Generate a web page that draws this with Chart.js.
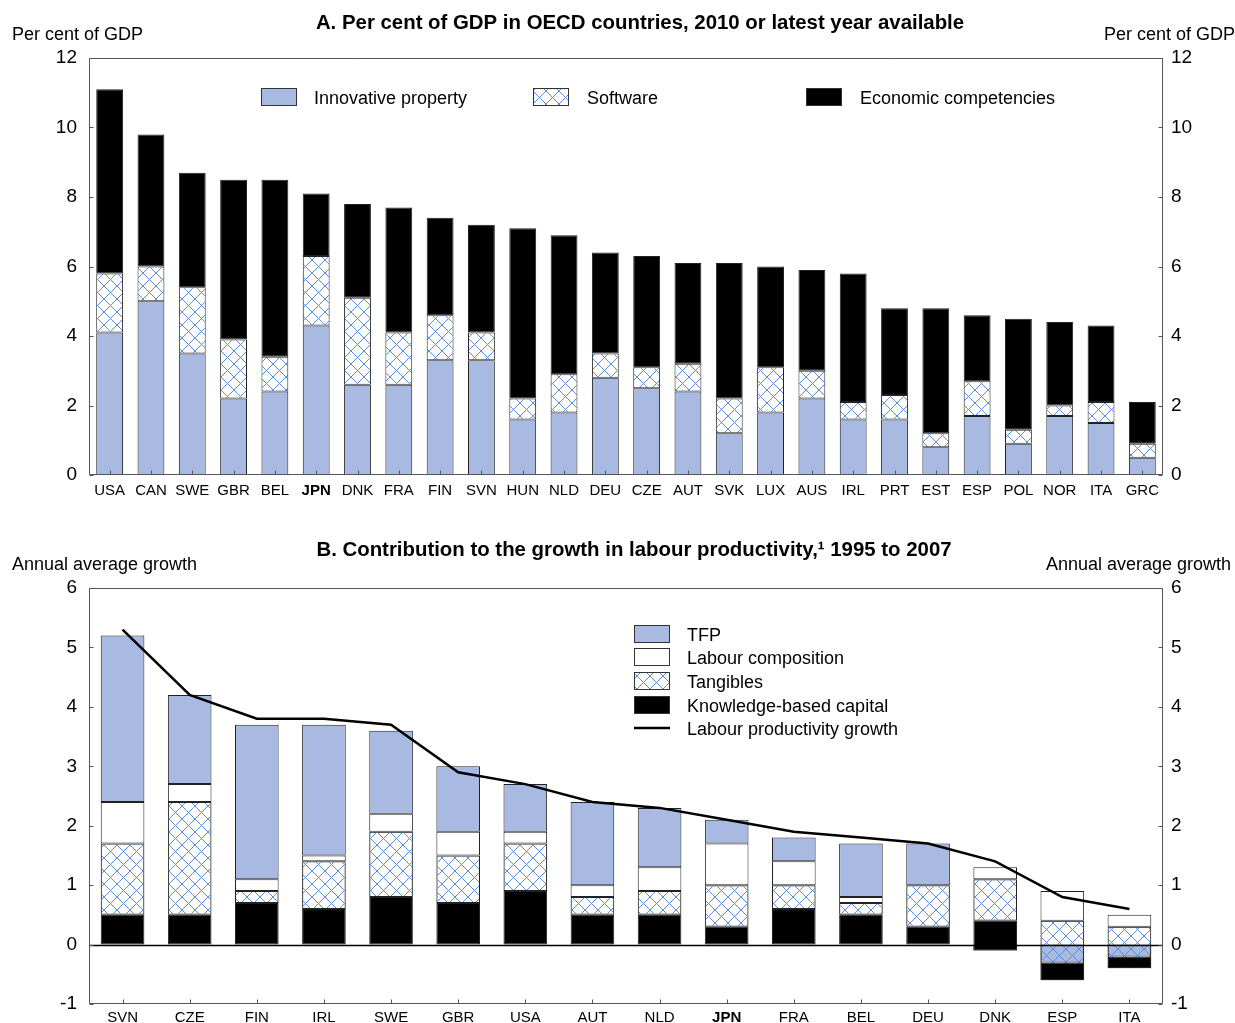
<!DOCTYPE html>
<html>
<head>
<meta charset="utf-8">
<script src="https://cdn.jsdelivr.net/npm/chart.js@4/dist/chart.umd.min.js"></script>
<style>
  html, body { margin: 0; padding: 0; background: #fff; overflow: hidden; width: 1235px; height: 1023px; }
  .panel { position: absolute; left: 0; width: 1235px; }
  #panelA { top: 0; height: 515px; }
  #panelB { top: 520px; height: 520px; }
</style>
</head>
<body>
<div class="panel" id="panelA"><canvas id="chartA"></canvas></div>
<div class="panel" id="panelB"><canvas id="chartB"></canvas></div>
<script>
// ---- Panel A: intangible investment, per cent of GDP ----
const countriesA = ['USA','CAN','SWE','GBR','BEL','JPN','DNK','FRA','FIN','SVN','HUN','NLD','DEU',
                    'CZE','AUT','SVK','LUX','AUS','IRL','PRT','EST','ESP','POL','NOR','ITA','GRC'];
const innovativeProperty   = [4.1,5.0,3.5,2.2,2.4,4.3,2.6,2.6,3.3,3.3,1.6,1.8,2.8,2.5,2.4,1.2,1.8,2.2,1.6,1.6,0.8,1.7,0.9,1.7,1.5,0.5];
const software             = [1.7,1.0,1.9,1.7,1.0,2.0,2.5,1.5,1.3,0.8,0.6,1.1,0.7,0.6,0.8,1.0,1.3,0.8,0.5,0.7,0.4,1.0,0.4,0.3,0.6,0.4];
const economicCompetencies = [5.3,3.8,3.3,4.6,5.1,1.8,2.7,3.6,2.8,3.1,4.9,4.0,2.9,3.2,2.9,3.9,2.9,2.9,3.7,2.5,3.6,1.9,3.2,2.4,2.2,1.2];
const ticksA = [0, 2, 4, 6, 8, 10, 12];

// ---- Panel B: contributions to labour productivity growth, 1995-2007 ----
const countriesB = ['SVN','CZE','FIN','IRL','SWE','GBR','USA','AUT','NLD','JPN','FRA','BEL','DEU','DNK','ESP','ITA'];
const tfp        = [2.8,1.5,2.6,2.2,1.4,1.1,0.8,1.4,1.0,0.4,0.4,0.9,0.7,-0.1,-0.3,-0.2];
const labourComp = [0.7,0.3,0.2,0.1,0.3,0.4,0.2,0.2,0.4,0.7,0.4,0.1,0.0,0.2,0.5,0.2];
const tangibles  = [1.2,1.9,0.2,0.8,1.1,0.8,0.8,0.3,0.4,0.7,0.4,0.2,0.7,0.7,1.0,0.7];
const kbc        = [0.5,0.5,0.7,0.6,0.8,0.7,0.9,0.5,0.5,0.3,0.6,0.5,0.3,0.5,-0.3,-0.2];
const lpGrowth   = [5.3,4.2,3.8,3.8,3.7,2.9,2.7,2.4,2.3,2.1,1.9,1.8,1.7,1.4,0.8,0.6];
const ticksB = [-1, 0, 1, 2, 3, 4, 5, 6];

// ---- styling ----
const FONT = "'Liberation Sans', Arial, Helvetica, sans-serif";
const BLUE = '#a8b9e2';
const HATCH_LINE = '#5b8ed6';
const EDGE = '#222';
const FRAME = '#555';

function hatch(bg) {
  const s = 13;
  const c = document.createElement('canvas');
  c.width = s; c.height = s;
  const g = c.getContext('2d');
  if (bg) { g.fillStyle = bg; g.fillRect(0, 0, s, s); }
  g.strokeStyle = HATCH_LINE;
  g.lineWidth = 1;
  g.beginPath();
  g.moveTo(-1, -1); g.lineTo(s + 1, s + 1);
  g.moveTo(s + 1, -1); g.lineTo(-1, s + 1);
  g.stroke();
  return g.createPattern(c, 'repeat');
}
const hatchWhite = hatch('#fff');
const hatchClear = hatch(null);

// Segments for panel B: negative parts hang below zero, positive parts build up
// from the bottom of the negative stack (kbc, tangibles, labour, tfp upwards).
function segmentsB() {
  const series = { kbc: kbc, tangibles: tangibles, labour: labourComp, tfp: tfp };
  const up = ['kbc', 'tangibles', 'labour', 'tfp'];
  const out = { kbc: [], tangibles: [], labour: [], tfp: [] };
  countriesB.forEach((_, i) => {
    let base = 0;
    [...up].reverse().forEach(k => {
      const v = series[k][i];
      if (v < 0) { out[k][i] = [base, base + v]; base += v; }
    });
    up.forEach(k => {
      const v = series[k][i];
      if (v >= 0) { out[k][i] = [base, base + v]; base += v; }
    });
  });
  return out;
}
const segB = segmentsB();

// Frame, inward tick marks, zero line, titles and legends
const decorPlugin = {
  id: 'decor',
  afterDatasetsDraw(chart, args, o) {
    const { ctx, chartArea: a, scales } = chart;
    const y = scales.y, x = scales.x;
    ctx.save();
    if (o.zeroLine) {
      const y0 = Math.round(y.getPixelForValue(0)) + 0.5;
      ctx.strokeStyle = '#000'; ctx.lineWidth = 1.5;
      ctx.beginPath(); ctx.moveTo(a.left, y0); ctx.lineTo(a.right, y0); ctx.stroke();
    }
    const L = Math.round(a.left) + 0.5, R = Math.round(a.right) - 0.5;
    const T = Math.round(a.top) + 0.5, B = Math.round(a.bottom) - 0.5;
    ctx.strokeStyle = FRAME; ctx.lineWidth = 1;
    ctx.beginPath();
    ctx.moveTo(L, B); ctx.lineTo(L, T); ctx.lineTo(R, T); ctx.lineTo(R, B);
    ctx.stroke();
    ctx.strokeStyle = o.baseColor || FRAME;
    ctx.beginPath(); ctx.moveTo(L, B); ctx.lineTo(R, B); ctx.stroke();
    ctx.strokeStyle = FRAME;
    ctx.beginPath();
    o.ticks.forEach(v => {
      const yy = Math.round(y.getPixelForValue(v)) + 0.5;
      ctx.moveTo(L, yy); ctx.lineTo(L + 4, yy);
      ctx.moveTo(R, yy); ctx.lineTo(R - 4, yy);
    });
    chart.data.labels.forEach((_, i) => {
      const xx = Math.round(x.getPixelForValue(i)) + 0.5;
      ctx.moveTo(xx, B); ctx.lineTo(xx, B - 4);
    });
    ctx.stroke();
    ctx.restore();
  },
  afterDraw(chart, args, o) {
    const { ctx } = chart;
    ctx.save();
    ctx.fillStyle = '#000';
    ctx.textBaseline = 'alphabetic';
    ctx.font = 'bold 20.4px ' + FONT;
    ctx.textAlign = 'center';
    ctx.fillText(o.title, o.titleX, o.titleY);
    ctx.font = '18px ' + FONT;
    ctx.textAlign = 'left';
    ctx.fillText(o.unit, 12, o.unitY);
    ctx.textAlign = 'right';
    ctx.fillText(o.unit, o.unitRight, o.unitY);
    // legend
    ctx.textAlign = 'left';
    o.legend.forEach(item => {
      const label = chart.data.datasets[item.ds].label;
      if (item.kind === 'line') {
        ctx.strokeStyle = '#000'; ctx.lineWidth = 2.5;
        ctx.beginPath(); ctx.moveTo(item.bx, item.by + 9); ctx.lineTo(item.bx + 36, item.by + 9); ctx.stroke();
      } else {
        ctx.fillStyle = '#fff';
        ctx.fillRect(item.bx, item.by, 36, 18);
        ctx.fillStyle = item.fill;
        ctx.fillRect(item.bx, item.by, 36, 18);
        ctx.strokeStyle = '#333'; ctx.lineWidth = 1;
        ctx.strokeRect(item.bx + 0.5, item.by + 0.5, 35, 17);
      }
      ctx.fillStyle = '#000';
      ctx.fillText(label, item.tx, item.by + 15.5);
    });
    ctx.restore();
  }
};

const catTicks = (labels, pad) => ({
  color: '#000', padding: pad, autoSkip: false, maxRotation: 0,
  font: c => ({ family: FONT, size: 15, weight: labels[c.index] === 'JPN' ? 'bold' : 'normal' })
});
const valTicks = (pad, step) => ({
  color: '#000', padding: pad, stepSize: step, font: { family: FONT, size: 19 }
});
const noGrid = { display: false, drawTicks: false };
const barStyle = { borderColor: EDGE, borderWidth: 1, borderSkipped: false, barPercentage: 0.65, categoryPercentage: 1 };

new Chart(document.getElementById('chartA'), {
  type: 'bar',
  data: {
    labels: countriesA,
    datasets: [
      { label: 'Innovative property', data: innovativeProperty, backgroundColor: BLUE, ...barStyle },
      { label: 'Software', data: software, backgroundColor: hatchWhite, ...barStyle },
      { label: 'Economic competencies', data: economicCompetencies, backgroundColor: '#000', ...barStyle }
    ]
  },
  options: {
    responsive: true, maintainAspectRatio: false, animation: false,
    layout: { padding: { top: 58, left: 0, right: 0, bottom: 0 } },
    plugins: {
      legend: { display: false }, tooltip: { enabled: false },
      decor: {
        ticks: ticksA, zeroLine: false,
        title: 'A. Per cent of GDP in OECD countries, 2010 or latest year available', titleX: 640, titleY: 29,
        unit: 'Per cent of GDP', unitY: 40, unitRight: 1235,
        legend: [
          { ds: 0, bx: 261, by: 88, tx: 314, fill: BLUE },
          { ds: 1, bx: 533, by: 88, tx: 587, fill: hatchWhite },
          { ds: 2, bx: 806, by: 88, tx: 860, fill: '#000' }
        ]
      }
    },
    scales: {
      x: { stacked: true, grid: noGrid, border: { display: false }, ticks: catTicks(countriesA, 7),
           afterFit: s => { s.height = 40; } },
      y: { stacked: true, min: 0, max: 12, grid: noGrid, border: { display: false }, ticks: valTicks(12, 2),
           afterFit: s => { s.width = 89; } },
      yR: { position: 'right', min: 0, max: 12, grid: noGrid, border: { display: false }, ticks: valTicks(8, 2),
            afterFit: s => { s.width = 72; } }
    }
  },
  plugins: [decorPlugin]
});

new Chart(document.getElementById('chartB'), {
  type: 'bar',
  data: {
    labels: countriesB,
    datasets: [
      { label: 'TFP', data: segB.tfp, backgroundColor: BLUE, grouped: false, order: 4, ...barStyle },
      { label: 'Labour composition', data: segB.labour, backgroundColor: '#fff', grouped: false, order: 1, ...barStyle },
      { label: 'Tangibles', data: segB.tangibles, backgroundColor: hatchClear, grouped: false, order: 3, ...barStyle },
      { label: 'Knowledge-based capital', data: segB.kbc, backgroundColor: '#000', grouped: false, order: 2, ...barStyle },
      { label: 'Labour productivity growth', type: 'line', data: lpGrowth, borderColor: '#000', borderWidth: 2.5,
        pointRadius: 0, tension: 0, fill: false, order: 0 }
    ]
  },
  options: {
    responsive: true, maintainAspectRatio: false, animation: false,
    layout: { padding: { top: 68, left: 0, right: 0, bottom: 0 } },
    plugins: {
      legend: { display: false }, tooltip: { enabled: false },
      decor: {
        ticks: ticksB, zeroLine: true,
        title: 'B. Contribution to the growth in labour productivity,\u00b9 1995 to 2007', titleX: 634, titleY: 36,
        unit: 'Annual average growth', unitY: 50, unitRight: 1231,
        legend: [
          { ds: 0, bx: 634, by: 105, tx: 687, fill: BLUE },
          { ds: 1, bx: 634, by: 128, tx: 687, fill: '#fff' },
          { ds: 2, bx: 634, by: 152, tx: 687, fill: hatchWhite },
          { ds: 3, bx: 634, by: 176, tx: 687, fill: '#000' },
          { ds: 4, bx: 634, by: 199, tx: 687, kind: 'line' }
        ]
      }
    },
    scales: {
      x: { grid: noGrid, border: { display: false }, ticks: catTicks(countriesB, 5),
           afterFit: s => { s.height = 36; } },
      y: { min: -1, max: 6, grid: noGrid, border: { display: false }, ticks: valTicks(12, 1),
           afterFit: s => { s.width = 89; } },
      yR: { position: 'right', min: -1, max: 6, grid: noGrid, border: { display: false }, ticks: valTicks(8, 1),
            afterFit: s => { s.width = 72; } }
    }
  },
  plugins: [decorPlugin]
});
</script>
</body>
</html>
